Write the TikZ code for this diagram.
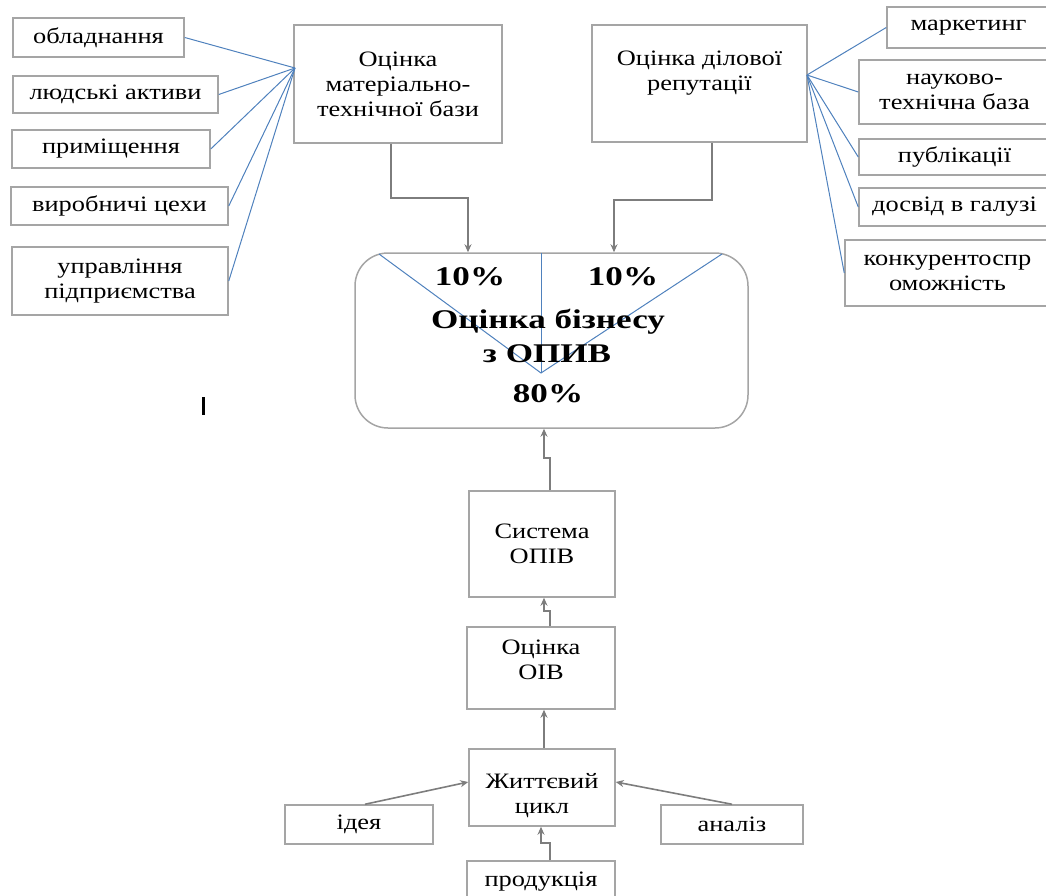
\documentclass[tikz,border=0pt]{standalone}
\usepackage{fontspec}
\setmainfont{Liberation Serif}[FakeStretch=1.2]
\newfontfamily\widefont{Liberation Serif}[FakeStretch=1.3]
\usepackage{tikz}
\usetikzlibrary{arrows.meta, positioning}
\definecolor{boxgray}{RGB}{165,165,165}
\definecolor{arrowgray}{RGB}{125,125,125}
\definecolor{fanblue}{RGB}{79,129,189}

\tikzset{
	box/.style={draw=boxgray, line width=1.5pt, align=center, inner sep=2pt,
		font=\fontsize{22}{25}\selectfont},
	bigtext/.style={anchor=base, inner sep=0pt, font=\widefont\fontsize{27}{30}\selectfont\bfseries},
	fanline/.style={fanblue, line width=1pt},
	arr/.style={arrowgray, line width=1.6pt, -{Stealth[length=8pt, width=7pt]}},
}

\begin{document}
\begin{tikzpicture}[x=1pt, y=1pt]
		\useasboundingbox (0,0) rectangle (1046,-896);
		% left group
		\node[box, minimum width=171, minimum height=39] (obl) at (98.5,-37.5) {обладнання};
		\node[box, minimum width=205, minimum height=37] (lyud) at (115.5,-94.5) {людські активи};
		\node[box, minimum width=198, minimum height=38] (prym) at (111,-149) {приміщення};
		\node[box, minimum width=217, minimum height=38] (vyrob) at (119.5,-206) {виробничі цехи};
		\node[box, minimum width=216, minimum height=68] (uprav) at (120,-281) {управління\\підприємства};
		% top boxes
		\node[box, minimum width=208, minimum height=118] (matbase) at (398,-84) {Оцінка\\матеріально-\\технічної бази};
		\node[box, minimum width=215, minimum height=117] (dilova) at (699.5,-83.5) {Оцінка ділової\\репутації\\~};
		% right group
		\node[box, minimum width=163, minimum height=41] (market) at (968.5,-27.5) {маркетинг};
		\node[box, minimum width=191, minimum height=64] (nauk) at (954.5,-92) {науково-\\технічна база};
		\node[box, minimum width=191, minimum height=36] (publ) at (954.5,-157) {публікації};
		\node[box, minimum width=191, minimum height=38] (dosvid) at (954.5,-207) {досвід в галузі};
		\node[box, minimum width=205, minimum height=66] (konk) at (947.5,-273) {конкурентоспр\\оможність};
		
		\coordinate (fanL) at (295,-68);
		\coordinate (fanR) at (807,-75);
		\foreach \n in {obl,lyud,prym,vyrob,uprav}{
			\draw[fanline] (\n.east)--(fanL);
		}
		\foreach \n in {market,nauk,publ,dosvid,konk}{
			\draw[fanline] (fanR)--(\n.west);
		}
		
		% main box
		\node[draw=boxgray, line width=1.5pt, rounded corners=33, minimum width=393, minimum height=175] (main) at (551.5,-340.5) {};
		\coordinate (vtx) at (541,-373);
		\draw[fanline] (379,-254)--(vtx)--(722,-254);
		\draw[fanline] (541,-253)--(vtx);
		\node[bigtext] (pctL) at (470,-285) {10\%};
		\node[bigtext] (pctR) at (623,-285) {10\%};
		\node[bigtext] (title) at (548,-328) {Оцінка бізнесу};
		\node[bigtext] (subtitle) at (547,-362) {з ОПИВ};
		\node[bigtext] (pctM) at (548,-402) {80\%};
		
		% lower chain
		\node[box, minimum width=146, minimum height=106] (sys) at (542,-544) {Система\\ОПІВ};
		\node[box, minimum width=148, minimum height=82] (oiv) at (541,-668) {Оцінка\\ОІВ\\[-8pt]};
		\node[box, minimum width=146, minimum height=77] (zhyt) at (542,-787.5) {\mbox{}\\[6pt]Життєвий\\цикл};
		\node[box, minimum width=148, minimum height=39] (ideya) at (359,-824.5) {ідея};
		\node[box, minimum width=142, minimum height=39] (analiz) at (732,-824.5) {аналіз};
		\node[box, minimum width=148, minimum height=42] (prod) at (541,-882) {продукція};
		
		% arrows
		\draw[arr] ([xshift=-7]matbase.south) -- ++(0,-54) -| ([xshift=-83.5]main.north);
		\draw[arr] ([xshift=12.5]dilova.south) -- ++(0,-57) -| ([xshift=62.5]main.north);
		\draw[arr] ([xshift=8]sys.north) -- ++(0,32) -| ([xshift=-7.5]main.south);
		\draw[arr] ([xshift=9]oiv.north) -- ++(0,15) -| ([xshift=2]sys.south);
		\draw[arr] ([xshift=2]zhyt.north) -- ([xshift=3]oiv.south);
		\draw[arr] ([xshift=9]prod.north) -- ++(0,17) -| ([xshift=-1]zhyt.south);
		\draw[arr] ([xshift=6]ideya.north) -- ([yshift=5.5]zhyt.west);
		\draw[arr] (analiz.north) -- ([yshift=5.5]zhyt.east);
		
		% cursor mark
		\fill (202,-397) rectangle (205,-415);
	\end{tikzpicture}
\end{document}
